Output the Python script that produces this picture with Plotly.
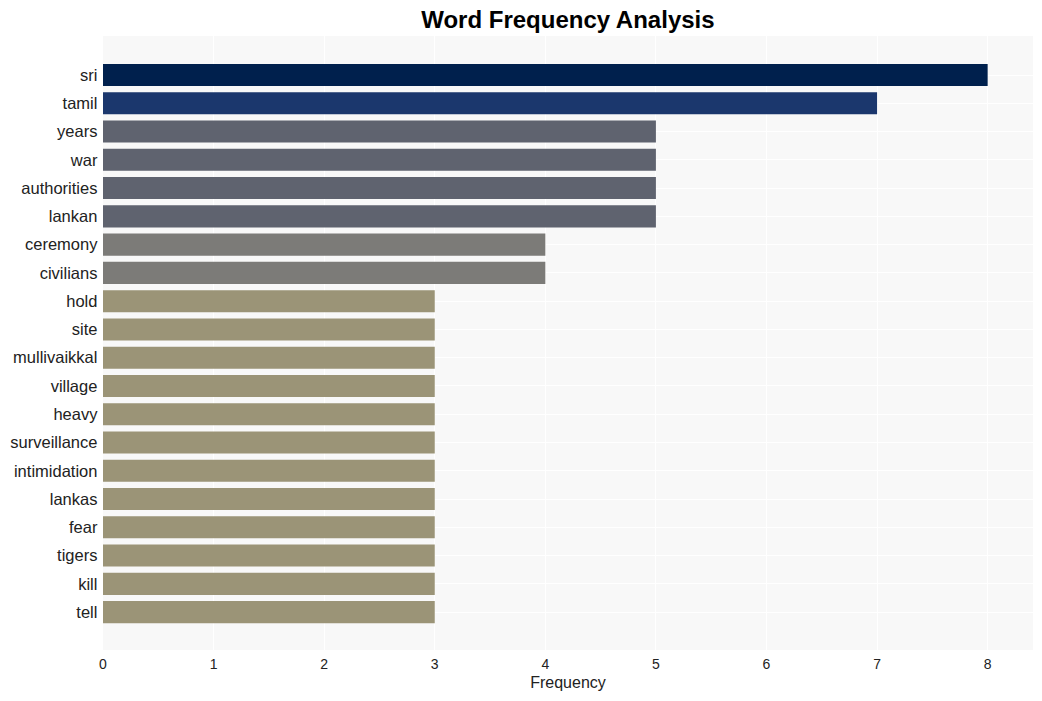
import plotly.graph_objects as go

words = ["sri", "tamil", "years", "war", "authorities", "lankan", "ceremony", "civilians",
         "hold", "site", "mullivaikkal", "village", "heavy", "surveillance", "intimidation",
         "lankas", "fear", "tigers", "kill", "tell"]
counts = [8, 7, 5, 5, 5, 5, 4, 4, 3, 3, 3, 3, 3, 3, 3, 3, 3, 3, 3, 3]
color_by_count = {8: "#00204d", 7: "#1b376d", 5: "#5f636f", 4: "#7c7b78", 3: "#9b9477"}
colors = [color_by_count[c] for c in counts]

fig = go.Figure(go.Bar(
    x=counts, y=words, orientation="h",
    marker=dict(color=colors, line=dict(width=0)),
))
fig.update_layout(
    width=1042, height=701,
    margin=dict(l=103, r=9, t=36, b=51),
    paper_bgcolor="white", plot_bgcolor="#f8f8f8",
    font=dict(family="Liberation Sans, Arial, sans-serif", color="#222"),
    title=dict(text="<b>Word Frequency Analysis</b>", x=0.545, xanchor="center",
               y=0.972, yanchor="middle", font=dict(size=24, color="black")),
    bargap=0.22,
    showlegend=False,
)
fig.update_xaxes(title=dict(text="Frequency", font=dict(size=16), standoff=6),
                 range=[0, 8.41], dtick=1, tickfont=dict(size=14),
                 showgrid=True, gridcolor="white", gridwidth=1, zeroline=False,
                 ticks="outside", ticklen=1, tickcolor="rgba(0,0,0,0)", showline=False)
fig.update_yaxes(range=[20.34, -1.38], tickfont=dict(size=16.5),
                 showgrid=True, gridcolor="white", gridwidth=1, ticks="",
                 ticksuffix=" ", showline=False)
fig.write_html("out.html")
